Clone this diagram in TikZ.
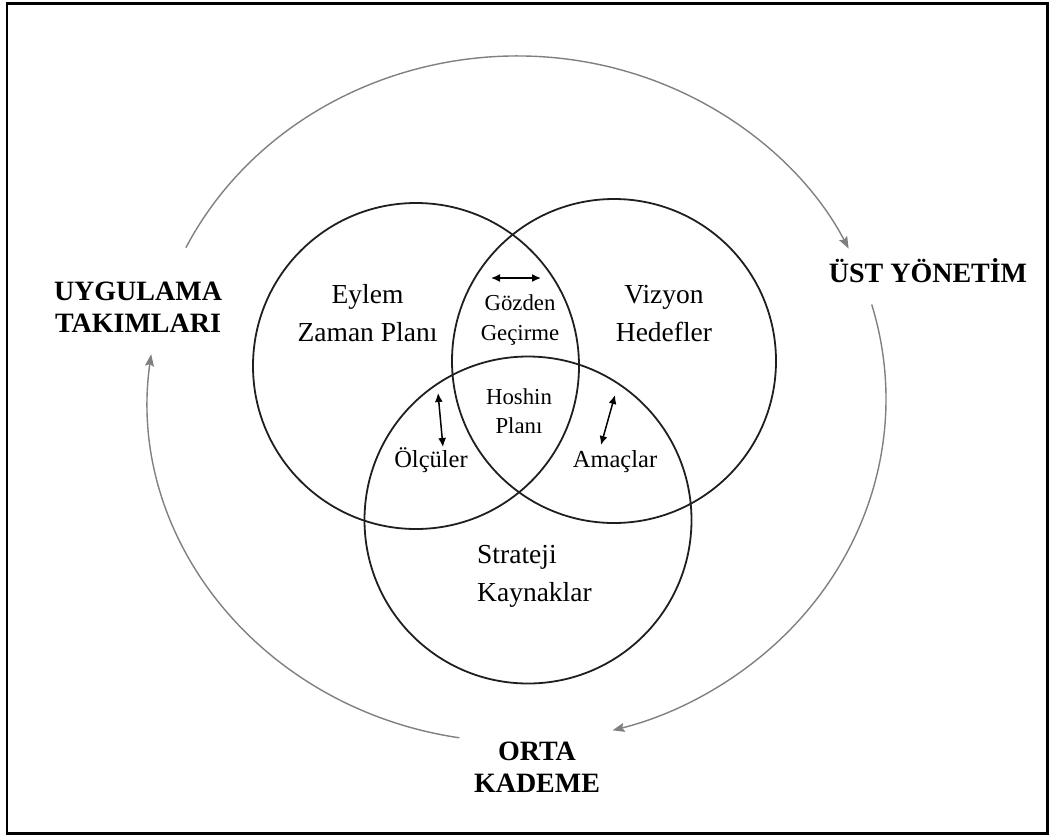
\documentclass[tikz,border=0pt]{standalone}
\usepackage{fontspec}
\setmainfont{Liberation Serif}
\usetikzlibrary{arrows.meta}

\begin{document}
\begin{tikzpicture}[x=1pt,y=-1pt,
  ring/.style={circle,draw=black!88,line width=1.8pt,minimum size=#1,inner sep=0pt},
  cycle/.style={draw=black!50,line width=1.4pt,-{Stealth[length=12pt,width=9pt,inset=2pt]}},
  swap/.style={line width=1.5pt,{Latex[length=9pt,width=8pt]}-{Latex[length=9pt,width=8pt]}},
  big/.style={font=\fontsize{27.5}{38}\selectfont,align=center,inner sep=0pt},
  mid/.style={font=\fontsize{24.5}{30}\selectfont,align=center,inner sep=0pt},
  overlap/.style={font=\fontsize{22.8}{29}\selectfont,align=center,inner sep=0pt},
  level/.style={font=\bfseries\fontsize{28}{32}\selectfont,align=center,inner sep=0pt}]

% frame
\useasboundingbox (0,0) rectangle (1049,836);
\draw[line width=2.4pt] (7,3.5) rectangle (1047.5,833.5);

% the three overlapping circles
\node[ring=326pt] (plan)     at (416,366) {};
\node[ring=324pt] (vision)   at (614,361) {};
\node[ring=327pt] (strategy) at (528,520) {};

% circle labels (anchored on the baseline of their last line)
\node[big,anchor=base] (eylem) at (367.5,341) {Eylem\\Zaman Planı};
\node[big,anchor=base] (vizyon) at (664,341) {Vizyon\\Hedefler};
\node[big,align=left,anchor=base west] (strateji) at (477,601) {Strateji\\Kaynaklar};

% overlap labels
\node[overlap,font=\fontsize{22.8}{30}\selectfont,anchor=base] (gozden) at (520,340) {Gözden\\Geçirme};
\node[overlap,anchor=base] (hoshin) at (519,433) {Hoshin\\Planı};
\node[mid,anchor=base] (olculer) at (431,467) {Ölçüler};
\node[mid,anchor=base] (amaclar) at (615,467) {Amaçlar};

% two-way arrows between the overlaps
\coordinate (gA) at (491,278);
\coordinate (gB) at (541,278);
\coordinate (oA) at (438,393);
\coordinate (oB) at (443,447);
\coordinate (aA) at (615,395);
\coordinate (aB) at (601,445);
\draw[swap] (gA) -- (gB);
\draw[swap] (oA) -- (oB);
\draw[swap] (aA) -- (aB);

% management levels
\node[level,anchor=base] (uyg) at (138,332) {UYGULAMA\\TAKIMLARI};
\node[level,anchor=base] (ust) at (928,282) {ÜST YÖNETİM};
\node[level,anchor=base] (orta) at (537,792) {ORTA\\KADEME};

% outer cycle between the levels
\coordinate (loop) at (517,399);
\draw[cycle] (loop) ++(-153.8:369 and 343)
  arc[start angle=-153.8,end angle=-26,x radius=369,y radius=343];
\draw[cycle] (loop) ++(-16:369 and 343)
  arc[start angle=-16,end angle=75,x radius=369,y radius=343];
\draw[cycle] (loop) ++(99:369 and 343)
  arc[start angle=99,end angle=187.5,x radius=369,y radius=343];
\end{tikzpicture}
\end{document}
